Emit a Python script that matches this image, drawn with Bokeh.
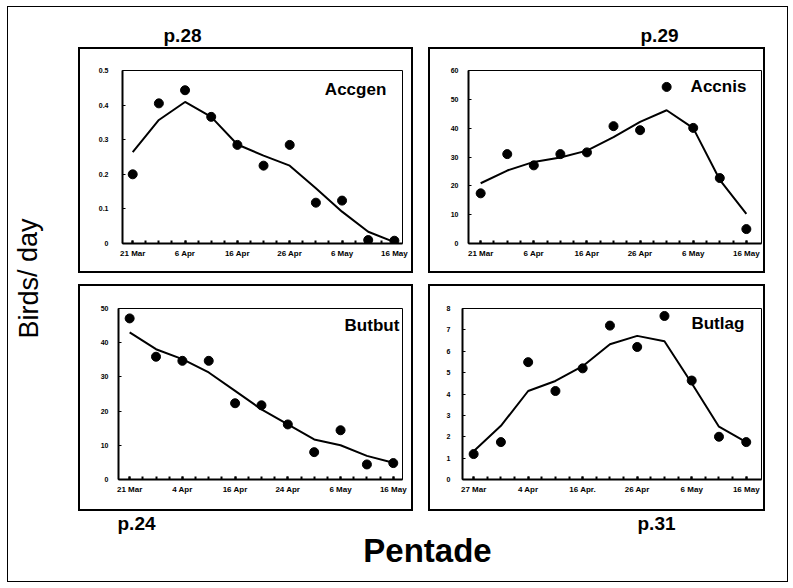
from bokeh.plotting import figure
from bokeh.layouts import column, row
from bokeh.models import FixedTicker, Label, Spacer, Range1d
from bokeh.embed import file_html
from bokeh.resources import INLINE

# ---------------- data ----------------
pentade = list(range(11))
tick_pos = [0, 2, 4, 6, 8, 10]

accgen_labels = ["21 Mar", "6 Apr", "16 Apr", "26 Apr", "6 May", "16 May"]
accgen_obs = [0.20, 0.405, 0.443, 0.366, 0.285, 0.225, 0.285, 0.118, 0.124, 0.010, 0.008]
accgen_fit = [0.264, 0.357, 0.409, 0.366, 0.286, 0.254, 0.225, 0.160, 0.092, 0.034, 0.004]
accgen_yticks = [0, 0.1, 0.2, 0.3, 0.4, 0.5]
accgen_ylabels = ["0", "0.1", "0.2", "0.3", "0.4", "0.5"]

accnis_labels = ["21 Mar", "6 Apr", "16 Apr", "26 Apr", "6 May", "16 May"]
accnis_obs = [17.4, 31.0, 27.1, 31.0, 31.6, 40.7, 39.3, 54.3, 40.1, 22.7, 5.0]
accnis_fit = [20.9, 25.3, 28.3, 29.8, 32.2, 36.9, 42.2, 46.2, 40.0, 22.1, 10.3]
accnis_yticks = [0, 10, 20, 30, 40, 50, 60]

butbut_labels = ["21 Mar", "4 Apr", "16 Apr", "24 Apr", "6 May", "16 May"]
butbut_obs = [47.1, 35.9, 34.7, 34.7, 22.3, 21.7, 16.1, 8.0, 14.4, 4.4, 4.8]
butbut_fit = [43.0, 38.1, 35.2, 31.3, 25.9, 20.5, 16.1, 11.7, 10.0, 6.9, 4.9]
butbut_yticks = [0, 10, 20, 30, 40, 50]

butlag_labels = ["27 Mar", "4 Apr", "16 Apr.", "26 Apr", "6 May", "16 May"]
butlag_obs = [1.19, 1.75, 5.49, 4.14, 5.20, 7.20, 6.20, 7.65, 4.63, 2.00, 1.75]
butlag_fit = [1.32, 2.51, 4.14, 4.61, 5.30, 6.33, 6.72, 6.47, 4.50, 2.47, 1.75]
butlag_yticks = [0, 1, 2, 3, 4, 5, 6, 7, 8]

FONT = "Liberation Sans"
BOX = {"border": "2px solid black", "box-sizing": "content-box"}


def panel(name, obs, fit, labels, yticks, ylabels, w, h, xr, yr, borders, ystand, title_xy):
    bl, br, bt, bb = borders
    p = figure(width=w, height=h, x_range=Range1d(*xr), y_range=Range1d(*yr),
               output_backend="svg", toolbar_location=None,
               min_border_left=bl, min_border_right=br,
               min_border_top=bt, min_border_bottom=bb,
               background_fill_color="white", border_fill_color="white",
               styles=BOX)
    p.xgrid.visible = False
    p.ygrid.visible = False
    p.outline_line_color = "black"
    p.outline_line_width = 1

    p.line(pentade, fit, line_color="black", line_width=2)
    p.scatter(pentade, obs, size=9, marker="circle", fill_color="black", line_color="black")

    xa = p.xaxis[0]
    xa.ticker = FixedTicker(ticks=tick_pos, minor_ticks=[k * 0.5 for k in range(21)])
    xa.major_label_overrides = {t: l for t, l in zip(tick_pos, labels)}
    xa.axis_line_width = 2
    xa.major_tick_in = 3
    xa.major_tick_out = 0
    xa.minor_tick_in = 3
    xa.minor_tick_out = 0
    xa.major_tick_line_width = 2
    xa.minor_tick_line_width = 2
    xa.major_label_standoff = 5
    xa.major_label_text_font = FONT
    xa.major_label_text_font_style = "bold"
    xa.major_label_text_font_size = "8px"
    xa.major_label_text_color = "black"

    ya = p.yaxis[0]
    ya.ticker = FixedTicker(ticks=yticks, minor_ticks=[])
    ya.major_label_overrides = {t: l for t, l in zip(yticks, ylabels)}
    ya.axis_line_width = 2
    ya.major_tick_in = 3
    ya.major_tick_out = 0
    ya.major_tick_line_width = 1
    ya.minor_tick_in = 0
    ya.minor_tick_out = 0
    ya.major_label_standoff = ystand
    ya.major_label_text_font = FONT
    ya.major_label_text_font_style = "bold"
    ya.major_label_text_font_size = "7px"
    ya.major_label_text_color = "black"

    p.add_layout(Label(x=title_xy[0], y=title_xy[1], text=name, text_align="right",
                       text_baseline="middle", text_font=FONT, text_font_style="bold",
                       text_font_size="17px", text_color="black"))
    return p


tl = panel("Accgen", accgen_obs, accgen_fit, accgen_labels, accgen_yticks,
           accgen_ylabels, 331, 222,
           (-0.39, 10.31), (0, 0.5), (42, 13, 19, 31), 14, (9.69, 0.445))
tr = panel("Accnis", accnis_obs, accnis_fit, accnis_labels, accnis_yticks,
           [str(v) for v in accnis_yticks], 333, 222,
           (-0.458, 10.57), (0, 60), (38, 6, 21, 32), 10, (10.0, 54.3))
bl_ = panel("Butbut", butbut_obs, butbut_fit, butbut_labels, butbut_yticks,
            [str(v) for v in butbut_yticks], 331, 223,
            (-0.423, 10.35), (0, 50), (38, 13, 20, 32), 10, (10.23, 45.0))
br_ = panel("Butlag", butlag_obs, butlag_fit, butlag_labels, butlag_yticks,
            [str(v) for v in butlag_yticks], 333, 223,
            (-0.409, 10.56), (0, 8), (32, 6, 22, 34), 12, (9.93, 7.3))


def strip(w, h):
    s = figure(width=w, height=h, x_range=Range1d(0, w), y_range=Range1d(0, h),
               output_backend="svg", toolbar_location=None,
               min_border=0, min_border_left=0, min_border_right=0,
               min_border_top=0, min_border_bottom=0)
    s.axis.visible = False
    s.grid.visible = False
    s.outline_line_color = None
    return s


top = strip(779, 40)
top.add_layout(Label(x=155, y=2, text="p.28", text_font=FONT, text_font_style="bold",
                     text_font_size="19px", text_color="black"))
top.add_layout(Label(x=632, y=2, text="p.29", text_font=FONT, text_font_style="bold",
                     text_font_size="19px", text_color="black"))

left = strip(70, 464)
left.add_layout(Label(x=20, y=233, text="Birds/ day", angle=1.5708, text_align="center",
                      text_baseline="middle", text_font=FONT, text_font_size="27px",
                      text_color="black"))

bottom = strip(779, 70)
bottom.add_layout(Label(x=109, y=48, text="p.24", text_font=FONT, text_font_style="bold",
                        text_font_size="19px", text_color="black"))
bottom.add_layout(Label(x=629, y=48, text="p.31", text_font=FONT, text_font_style="bold",
                        text_font_size="19px", text_color="black"))
bottom.add_layout(Label(x=419, y=13, text="Pentade", text_align="center", text_font=FONT,
                        text_font_style="bold", text_font_size="33px", text_color="black"))

grid = column(row(tl, Spacer(width=15, height=226), tr, Spacer(width=22, height=226)),
              Spacer(width=709, height=11),
              row(bl_, Spacer(width=15, height=227), br_, Spacer(width=22, height=227)))
framed = column(top, row(left, grid), bottom,
                styles={"border": "1px solid black", "box-sizing": "content-box"})
layout = column(Spacer(width=788, height=6), row(Spacer(width=7, height=576), framed))

open("out.html", "w").write(file_html(layout, INLINE))
